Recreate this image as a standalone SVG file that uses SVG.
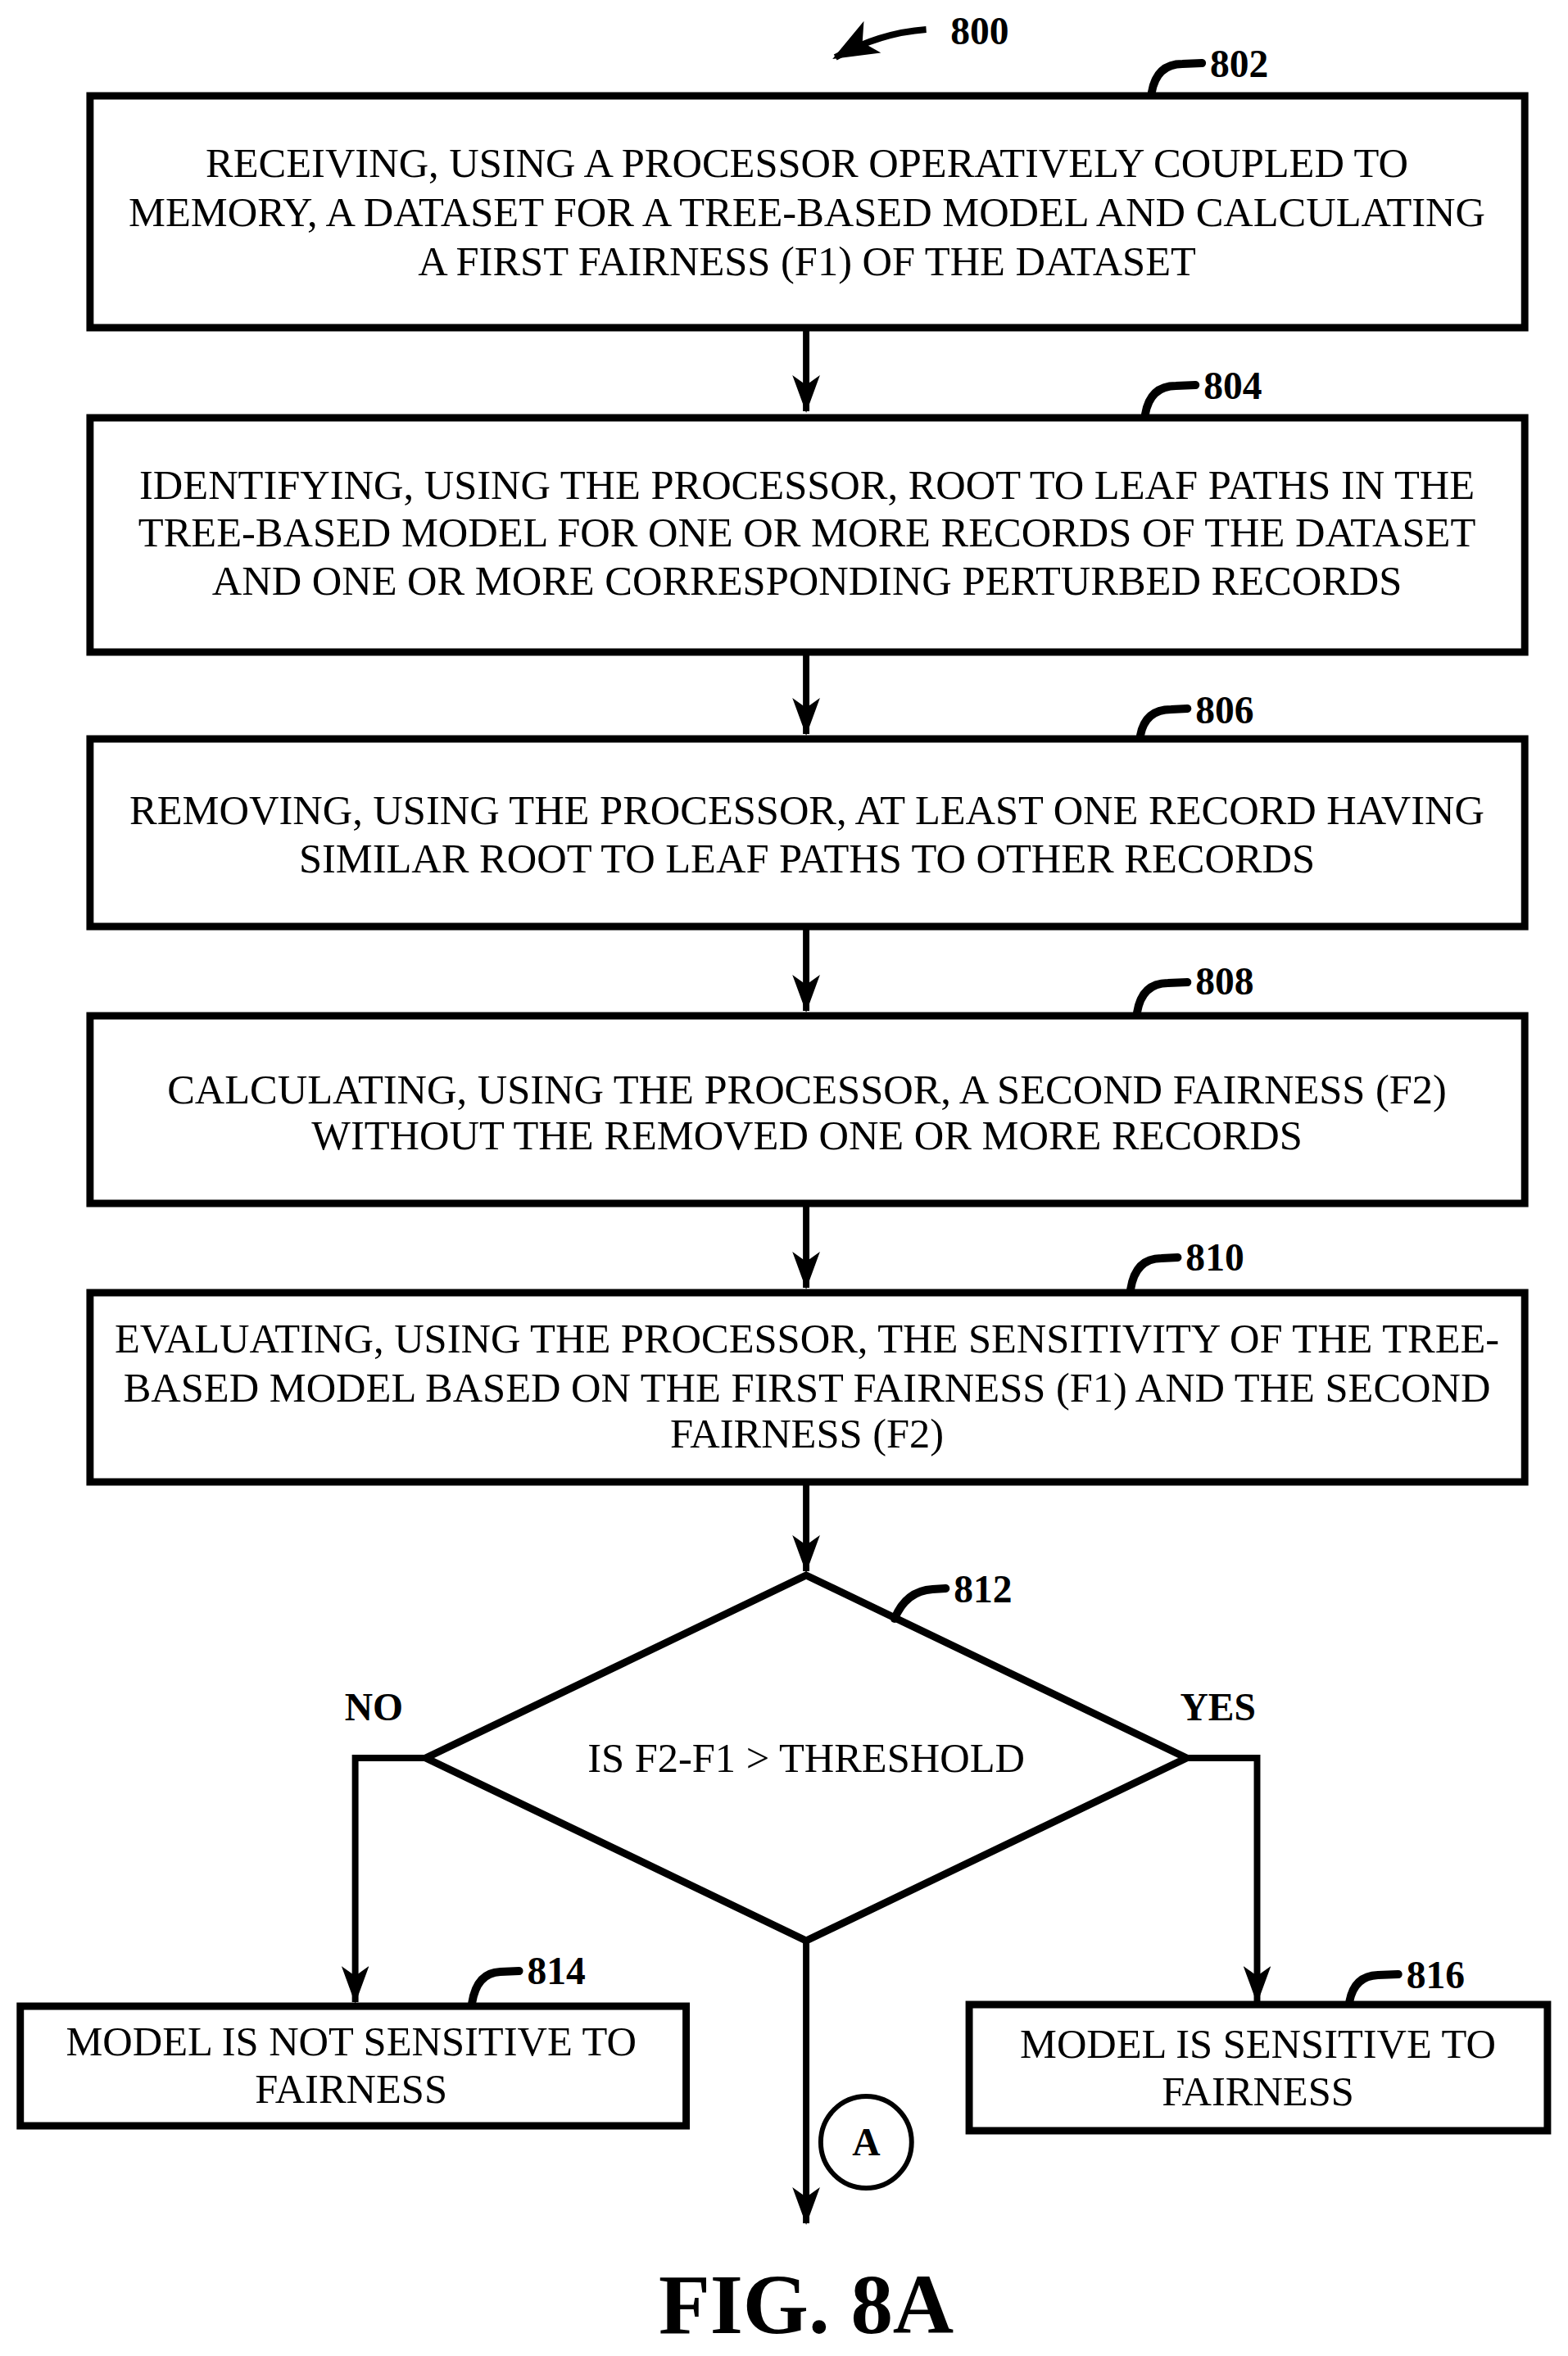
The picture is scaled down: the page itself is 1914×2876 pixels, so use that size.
<svg xmlns="http://www.w3.org/2000/svg" width="1914" height="2876" viewBox="0 0 1914 2876">
<defs>
<marker id="ad" markerUnits="userSpaceOnUse" markerWidth="46" markerHeight="34" viewBox="0 0 46 34" refX="44" refY="17" orient="auto"><path d="M0,0 L12,17 L0,34 L46,17 Z" fill="#000"/></marker>
<marker id="ab" markerUnits="userSpaceOnUse" markerWidth="56" markerHeight="44" viewBox="0 0 56 44" refX="52" refY="22" orient="auto"><path d="M0,0 L14,22 L0,44 L56,22 Z" fill="#000"/></marker>
</defs>
<style>
.box{fill:#fff;stroke:#000;stroke-width:9}
.t{font-family:"Liberation Serif",serif;font-size:51px;text-anchor:middle;fill:#000}
.lbl{font-family:"Liberation Serif",serif;font-size:48px;font-weight:bold;fill:#000}
.ld{fill:none;stroke:#000;stroke-width:10;stroke-linecap:round}
.c{fill:none;stroke:#000;stroke-width:8}
</style>
<rect width="1914" height="2876" fill="#fff"/>
<g transform="scale(0.99 1)">
<g id="connectors">
<path class="c" d="M994,400 V502" marker-end="url(#ad)"/>
<path class="c" d="M994,796 V896" marker-end="url(#ad)"/>
<path class="c" d="M994,1131 V1234" marker-end="url(#ad)"/>
<path class="c" d="M994,1469 V1572" marker-end="url(#ad)"/>
<path class="c" d="M994,1809 V1918" marker-end="url(#ad)"/>
<path class="c" d="M525,2146 H438 V2444" marker-end="url(#ad)"/>
<path class="c" d="M1463,2146 H1550 V2444" marker-end="url(#ad)"/>
<path class="c" d="M994,2369 V2714" marker-end="url(#ad)"/>
<path class="c" d="M1142,36 Q1085,40 1030,70" marker-end="url(#ab)" stroke-width="9"/>
</g>
<text class="lbl" x="1172" y="54">800</text>
<g id="n802">
<rect class="box" x="111" y="117" width="1769" height="283"/>
<text class="t" x="995" y="216">RECEIVING, USING A PROCESSOR OPERATIVELY COUPLED TO</text>
<text class="t" x="995" y="276">MEMORY, A DATASET FOR A TREE-BASED MODEL AND CALCULATING</text>
<text class="t" x="995" y="336">A FIRST FAIRNESS (F1) OF THE DATASET</text>
<path class="ld" d="M1420,113 Q1426,78 1458,78 L1482,77"/>
<text class="lbl" x="1492" y="94">802</text>
</g>
<g id="n804">
<rect class="box" x="111" y="510" width="1769" height="286"/>
<text class="t" x="995" y="609">IDENTIFYING, USING THE PROCESSOR, ROOT TO LEAF PATHS IN THE</text>
<text class="t" x="995" y="667">TREE-BASED MODEL FOR ONE OR MORE RECORDS OF THE DATASET</text>
<text class="t" x="995" y="726">AND ONE OR MORE CORRESPONDING PERTURBED RECORDS</text>
<path class="ld" d="M1412,506 Q1418,471 1450,471 L1474,470"/>
<text class="lbl" x="1484" y="487">804</text>
</g>
<g id="n806">
<rect class="box" x="111" y="902" width="1769" height="229"/>
<text class="t" x="995" y="1006">REMOVING, USING THE PROCESSOR, AT LEAST ONE RECORD HAVING</text>
<text class="t" x="995" y="1065">SIMILAR ROOT TO LEAF PATHS TO OTHER RECORDS</text>
<path class="ld" d="M1406,898 Q1412,866 1444,866 L1464,865"/>
<text class="lbl" x="1474" y="883">806</text>
</g>
<g id="n808">
<rect class="box" x="111" y="1240" width="1769" height="229"/>
<text class="t" x="995" y="1347">CALCULATING, USING THE PROCESSOR, A SECOND FAIRNESS (F2)</text>
<text class="t" x="995" y="1403">WITHOUT THE REMOVED ONE OR MORE RECORDS</text>
<path class="ld" d="M1402,1236 Q1408,1200 1440,1200 L1464,1199"/>
<text class="lbl" x="1474" y="1214">808</text>
</g>
<g id="n810">
<rect class="box" x="111" y="1578" width="1769" height="231"/>
<text class="t" x="995" y="1651">EVALUATING, USING THE PROCESSOR, THE SENSITIVITY OF THE TREE-</text>
<text class="t" x="995" y="1711">BASED MODEL BASED ON THE FIRST FAIRNESS (F1) AND THE SECOND</text>
<text class="t" x="995" y="1767">FAIRNESS (F2)</text>
<path class="ld" d="M1394,1574 Q1400,1536 1432,1536 L1452,1535"/>
<text class="lbl" x="1462" y="1551">810</text>
</g>
<g id="n812">
<polygon class="box" points="994,1923 1463,2146 994,2369 525,2146"/>
<text class="t" x="994" y="2163">IS F2-F1 &gt; THRESHOLD</text>
<path class="ld" d="M1103,1976 Q1117,1942 1150,1940 L1166,1939"/>
<text class="lbl" x="1176" y="1956">812</text>
</g>
<text class="lbl" x="425" y="2100">NO</text>
<text class="lbl" x="1455" y="2100">YES</text>
<g id="n814">
<rect class="box" x="25" y="2449" width="821" height="146"/>
<text class="t" x="433" y="2509">MODEL IS NOT SENSITIVE TO</text>
<text class="t" x="433" y="2567">FAIRNESS</text>
<path class="ld" d="M582,2445 Q588,2408 617,2407 L640,2406"/>
<text class="lbl" x="650" y="2422">814</text>
</g>
<g id="n816">
<rect class="box" x="1195" y="2447" width="713" height="154"/>
<text class="t" x="1551" y="2512">MODEL IS SENSITIVE TO</text>
<text class="t" x="1551" y="2570">FAIRNESS</text>
<path class="ld" d="M1664,2443 Q1670,2412 1699,2411 L1724,2410"/>
<text class="lbl" x="1734" y="2427">816</text>
</g>
<g id="nA">
<circle cx="1068" cy="2615" r="56" fill="#fff" stroke="#000" stroke-width="6"/>
<text class="lbl" x="1068" y="2631" text-anchor="middle" font-size="42">A</text>
</g>
<text x="994" y="2848" font-family="Liberation Serif,serif" font-size="104" font-weight="bold" text-anchor="middle">FIG. 8A</text>
</g>
</svg>
